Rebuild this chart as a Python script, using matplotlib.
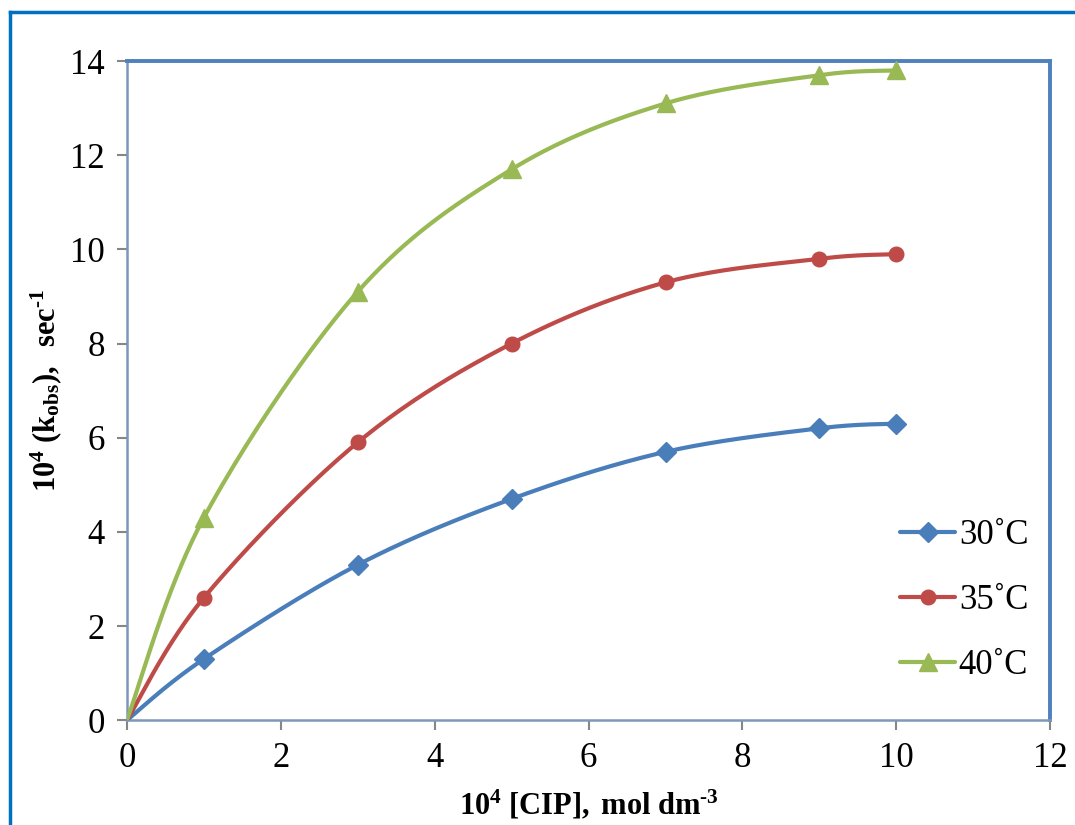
import numpy as np
import matplotlib
matplotlib.use('Agg')
import matplotlib.pyplot as plt
from matplotlib.lines import Line2D

plt.rcParams['font.family'] = 'Liberation Serif'
plt.rcParams['mathtext.fontset'] = 'custom'
plt.rcParams['mathtext.rm'] = 'Liberation Serif'
plt.rcParams['mathtext.bf'] = 'Liberation Serif:bold'
plt.rcParams['mathtext.it'] = 'Liberation Serif:italic'

# concentration of CIP (x 10^4 mol dm^-3)
conc = [0, 1, 3, 5, 7, 9, 10]
# observed rate constants (x 10^4 s^-1)
k30 = [0, 1.3, 3.3, 4.7, 5.7, 6.2, 6.3]
k35 = [0, 2.6, 5.9, 8.0, 9.3, 9.8, 9.9]
k40 = [0, 4.3, 9.1, 11.7, 13.1, 13.7, 13.8]

labels = ['30˚C', '35˚C', '40˚C']
colors = ['#4A7EBB', '#BE4B48', '#98B954']
markers = ['D', 'o', '^']
msizes = [10, 10.5, 13]


def smooth(x, y, n=40):
    # Excel style smoothed line: cubic bezier with catmull-rom control points
    x = np.asarray(x, float)
    y = np.asarray(y, float)
    px = np.concatenate([[x[0]], x, [x[-1]]])
    py = np.concatenate([[y[0]], y, [y[-1]]])
    t = np.linspace(0, 1, n)[:, None]
    xs, ys = [], []
    for i in range(1, len(px) - 2):
        p0 = np.array([px[i], py[i]])
        p3 = np.array([px[i + 1], py[i + 1]])
        c1 = p0 + (np.array([px[i + 1], py[i + 1]]) - np.array([px[i - 1], py[i - 1]])) / 6
        c2 = p3 - (np.array([px[i + 2], py[i + 2]]) - np.array([px[i], py[i]])) / 6
        pts = ((1 - t) ** 3) * p0 + 3 * ((1 - t) ** 2) * t * c1 + 3 * (1 - t) * t ** 2 * c2 + t ** 3 * p3
        xs.append(pts[:, 0])
        ys.append(pts[:, 1])
    return np.concatenate(xs), np.concatenate(ys)


fig = plt.figure(figsize=(10.75, 8.25), dpi=100)
ax = fig.add_axes([0.118, 0.127, 0.859, 0.799])

handles = []
for yv, lab, c, m, ms in zip([k30, k35, k40], labels, colors, markers, msizes):
    sx, sy = smooth(conc, yv)
    ax.plot(sx, sy, color=c, lw=3, solid_capstyle='round', zorder=3)
    ax.plot(conc[1:], yv[1:], ls='none', marker=m, ms=ms, color=c, zorder=4, clip_on=False)
    handles.append(Line2D([], [], color=c, lw=3, marker=m, ms=ms, solid_capstyle='round'))

ax.set_xlim(0, 12)
ax.set_ylim(0, 14)
ax.set_xticks(range(0, 13, 2))
ax.set_yticks(range(0, 15, 2))
ax.tick_params(direction='out', length=7, width=1.5, color='#868686', labelsize=25, pad=9)

for s in ['left', 'bottom']:
    ax.spines[s].set_color('#7F97B8')
    ax.spines[s].set_linewidth(1.8)
for s in ['top', 'right']:
    ax.spines[s].set_color('#4F81BD')
    ax.spines[s].set_linewidth(2.8)

ax.set_xlabel('$\\mathbf{10^4\\ [CIP],\\ mol\\ dm^{\u20103}}$', fontsize=22, labelpad=9)
ax.set_ylabel('$\\mathbf{10^4\\ (k_{obs}),\\ \\ sec^{\u20101}}$', fontsize=22, labelpad=4)

leg = ax.legend(handles, labels, loc='center left', bbox_to_anchor=(0.837, 0.182),
                frameon=False, fontsize=25, handlelength=1.6, handletextpad=0.1,
                labelspacing=0.92, borderpad=0, borderaxespad=0)

# outer chart border (blue) on left and top
fig.add_artist(Line2D([10 / 1075, 10 / 1075], [0, 1 - 12 / 825], color='#0070C0', lw=2.5,
                      transform=fig.transFigure))
fig.add_artist(Line2D([10 / 1075, 1], [1 - 12 / 825, 1 - 12 / 825], color='#0070C0', lw=2.5,
                      transform=fig.transFigure))

fig.savefig('out.png', dpi=100)
